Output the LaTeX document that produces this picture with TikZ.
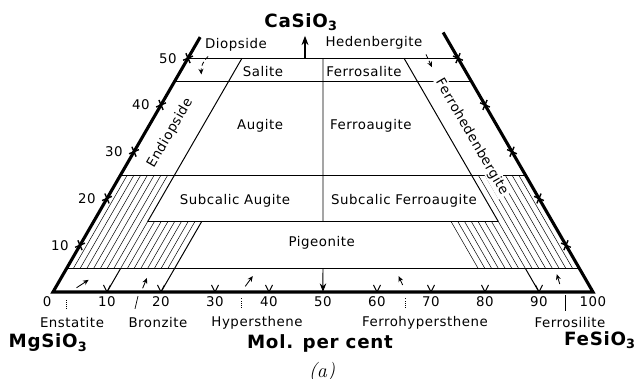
\documentclass[tikz,border=0pt]{standalone}
\usepackage{fontspec}
\usetikzlibrary{arrows.meta}
\newfontfamily\lettering[LetterSpace=4]{DejaVu Sans}
\tikzset{
  mineral/.style={font=\lettering\fontsize{9.5}{11}\selectfont},
  oxide/.style={font=\lettering\bfseries\fontsize{13}{15}\selectfont},
  field/.style={line width=0.7pt},
  hatch/.style={line width=0.35pt},
  pointer/.style={->, line width=0.6pt, >={Stealth[length=4pt,width=3.5pt]}},
  leader/.style={line width=0.5pt, densely dotted},
  edgetick/.style={line width=1pt},
}

\begin{document}
\begin{tikzpicture}[x={(0.135cm,0cm)}, y={(0.0675cm,0.11691cm)}, >=Stealth]
    \useasboundingbox (-1.325cm,-2.175cm) rectangle (14.575cm,7.3cm);
    \draw[field] (0,50) -- (50,50);
    \draw[field] (0,45) -- (55,45);
    \draw[field] (0,25) -- (75,25);
    \draw[field] (10,15) -- (75,15);
    \draw[field] (0,5) -- (95,5);
    \draw[field] (10,50) -- (10,15);
    \draw[field] (20,15) -- (20,5);
    \draw[field] (40,50) -- (75,15);
    \draw[field] (25,50) -- (42.5,15);
    \draw[field] (10,5) -- (10,0);
    \draw[field] (20,5) -- (20,0);
    \draw[field] (85,5) -- (90,0);
    \draw[field, ->] (47.5,5) -- (50,0);
    \foreach \f in {1.25,2.5,...,8.75}
        \draw[hatch] (\f,15) -- (\f,25);
    \foreach \f in {1.25,2.5,...,18.75}
        \draw[hatch] (\f,5) -- (\f,15);
    \foreach \m in {1.25,2.5,...,8.75}
        \draw[hatch] (75-\m,25) -- (85-\m,15);
    \foreach \m in {1.25,2.5,...,18.75}
        \draw[hatch] (85-\m,15) -- (95-\m,5);
    \draw[line width=2.2pt] (0,54.5) -- (0,0) -- (100,0) -- (44.5,55.5);
    \foreach \c in {10,20,...,50} {
        \draw[edgetick] (0,\c) +(-3.5pt,-1.5pt) -- +(3.5pt,1.5pt) +(-1.5pt,3.5pt) -- +(1.5pt,-3.5pt);
        \draw[edgetick] (100-\c,\c) +(-3.5pt,1.5pt) -- +(3.5pt,-1.5pt) +(-1.5pt,-3.5pt) -- +(1.5pt,3.5pt);
        \node[mineral, left] at (-1.2,\c) {\c};
    }
    \foreach \f in {10,20,30,40,60,70,80,90}
        \draw[line width=0.7pt] (\f,0) +(-2.5pt,5pt) -- +(0pt,0pt) -- +(2.5pt,5pt);
    \foreach \f in {10,20,...,100}
        \node[mineral, below] at (\f,0) {\f};
    \node[mineral, below] at (-1.1,0) {0};

    \node[mineral] (sal) at (15.3,47.2) {Salite};
    \node[mineral] (fsal) at (34,47.2) {Ferrosalite};
    \node[mineral] (aug) at (20.6,35.5) {Augite};
    \node[mineral] (faug) at (41.1,35.5) {Ferroaugite};
    \node[mineral, rotate=60] (endi) at (4.7,34) {Endiopside};
    \node[mineral, rotate=-60, fill=white, inner sep=1pt] (fhed) at (61,33.1) {Ferrohedenbergite};
    \node[mineral] (saug) at (24,19.4) {Subcalic Augite};
    \node[mineral] (sfaug) at (55.3,19.4) {Subcalic Ferroaugite};
    \node[mineral] (pig) at (44.5,10.5) {Pigeonite};

    \node[oxide] (ca) at (6.2cm,6.75cm) {CaSiO\textsubscript{3}};
    \coordinate (apex) at (6.3cm,5.846cm);
    \draw[->, line width=0.8pt] (apex) -- (apex |- ca.south);
    \node[mineral] (dio) at (4.575cm,6.175cm) {Diopside};
    \node[mineral] (hed) at (8.025cm,6.225cm) {Hedenbergite};
    \draw[pointer, densely dashed] ([xshift=0.2cm]dio.south west) to[bend right=25] ++(-0.17cm,-0.45cm);
    \draw[pointer, densely dashed] ([xshift=-1pt]hed.south east) -- ++(0.15cm,-0.32cm);

    \node[mineral] (ens) at (0.475cm,-0.775cm) {Enstatite};
    \node[mineral] (bro) at (2.625cm,-0.775cm) {Bronzite};
    \node[mineral] (hyp) at (5.1cm,-0.775cm) {Hypersthene};
    \node[mineral] (fhyp) at (9.3cm,-0.775cm) {Ferrohypersthene};
    \node[mineral] (fsil) at (12.925cm,-0.775cm) {Ferrosilite};
    \draw[leader] (ens.north) ++(-0.15cm,0.1cm) -- ++(0,0.25cm);
    \draw[line width=0.5pt] (bro.north) ++(-0.575cm,0.1cm) -- ++(0.075cm,0.32cm);
    \draw[leader] (hyp.north) ++(-0.4cm,0.1cm) -- ++(0,0.25cm);
    \draw[leader] (fhyp.north) ++(-0.5cm,0.1cm) -- ++(0,0.25cm);
    \draw[line width=0.5pt] (fsil.north) ++(-0.125cm,0.05cm) -- ++(0,0.4cm);
    \draw[pointer] (3.9,0.9) -- (5.3,2.6);
    \draw[pointer] (16.2,0.8) -- (15.9,3.0);
    \draw[pointer] (35.0,1.2) -- (35.3,3.4);
    \draw[pointer] (64.0,1.5) -- (62.3,3.4);
    \draw[pointer] (93.0,1.7) -- (91.4,3.8);

    \node[oxide] (mg) at (-0.125cm,-1.275cm) {MgSiO\textsubscript{3}};
    \node[oxide] (mol) at (6.675cm,-1.275cm) {Mol. per cent};
    \node[oxide] (fe) at (13.675cm,-1.2cm) {FeSiO\textsubscript{3}};
    \node[font=\Large\itshape] (cap) at (6.725cm,-2.0cm) {(a)};
\end{tikzpicture}
\end{document}
